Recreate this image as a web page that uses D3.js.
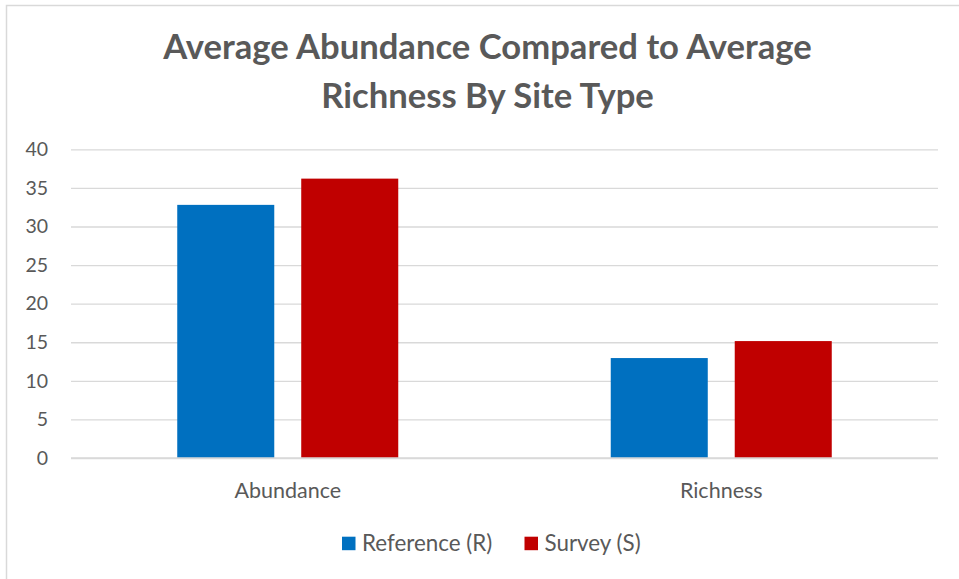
<!DOCTYPE html>
<html>
<head>
<meta charset="utf-8">
<script src="https://cdn.jsdelivr.net/npm/d3@7"></script>
<style>
  html, body { margin: 0; padding: 0; background: #fff; }
  svg { display: block; }
  text { font-family: Lato, "Open Sans", sans-serif; fill: #595959; }
</style>
</head>
<body>
<svg id="chart" width="959" height="579"></svg>
<script>
// Chart data
const categories = ["Abundance", "Richness"];
const seriesNames = ["Reference (R)", "Survey (S)"];
const referenceValues = [32.8, 12.95];
const surveyValues = [36.2, 15.15];
const yTicks = [0, 5, 10, 15, 20, 25, 30, 35, 40];
const titleLines = ["Average Abundance Compared to Average", "Richness By Site Type"];
const colors = ["#0070C0", "#C00000"];

const seriesValues = [referenceValues, surveyValues];
const table = categories.map((c, i) => ({
  category: c,
  values: seriesNames.map((s, j) => ({ series: s, value: seriesValues[j][i], idx: j }))
}));

const svg = d3.select("#chart");
const W = 959, H = 579;

// Outer chart border
svg.append("rect")
  .attr("x", 6.5).attr("y", 5.5)
  .attr("width", W + 10).attr("height", H + 10)
  .attr("fill", "#fff")
  .attr("stroke", "#D9D9D9").attr("stroke-width", 1.5);

// Plot area
const plot = { left: 71, right: 938, top: 149.3, bottom: 458 };

const x0 = d3.scaleBand().domain(categories).range([plot.left, plot.right]).padding(0);
const step = x0.bandwidth();
const barW = step * 0.2238;
const gap = barW * 0.278;
const groupW = barW * 2 + gap;
const x1 = d3.scaleBand().domain(seriesNames)
  .range([(step - groupW) / 2, (step + groupW) / 2])
  .paddingInner(gap / (barW + gap)).paddingOuter(0);

const y = d3.scaleLinear().domain([0, 40]).range([plot.bottom, plot.top]);

// Gridlines and value labels
const yAxis = d3.axisLeft(y).tickValues(yTicks).tickSize(-(plot.right - plot.left)).tickPadding(23);
const gy = svg.append("g").attr("transform", `translate(${plot.left},0)`).call(yAxis);
gy.select(".domain").remove();
gy.selectAll(".tick line").attr("stroke", "#D9D9D9").attr("stroke-width", 1.3);
gy.selectAll(".tick text")
  .attr("font-size", 19.5).attr("fill", "#595959")
  .style("font-family", "Lato, sans-serif");

// Bars
const groups = svg.append("g").selectAll("g").data(table).join("g")
  .attr("transform", d => `translate(${x0(d.category)},0)`);
groups.selectAll("rect").data(d => d.values).join("rect")
  .attr("x", d => x1(d.series))
  .attr("width", x1.bandwidth())
  .attr("y", d => y(d.value))
  .attr("height", d => y(0) - y(d.value))
  .attr("fill", d => colors[d.idx]);

// Baseline
svg.append("line")
  .attr("x1", plot.left).attr("x2", plot.right)
  .attr("y1", y(0)).attr("y2", y(0))
  .attr("stroke", "#D9D9D9").attr("stroke-width", 1.3);

// Category axis labels
const xAxis = d3.axisBottom(x0).tickSize(0).tickPadding(24.5);
const gx = svg.append("g").attr("transform", `translate(0,${plot.bottom})`).call(xAxis);
gx.select(".domain").remove();
gx.selectAll(".tick text")
  .attr("font-size", 21.5).attr("fill", "#595959")
  .style("font-family", "Lato, sans-serif");

// Title
const title = svg.append("g");
const baselines = [59.3, 108.3];
titleLines.forEach((t, i) => {
  title.append("text")
    .attr("x", 487.5).attr("y", baselines[i])
    .attr("text-anchor", "middle")
    .attr("font-weight", "bold")
    .attr("font-size", 30)
    .text(t);
});
// Fit the title width to the header area
const firstLine = title.select("text").node();
const targetWidth = 649;
const fs = 30 * targetWidth / firstLine.getComputedTextLength();
title.selectAll("text").attr("font-size", fs);

// Legend
const legendItems = [
  { name: seriesNames[0], color: colors[0], x: 342 },
  { name: seriesNames[1], color: colors[1], x: 524.5 }
];
const legend = svg.append("g");
legendItems.forEach(item => {
  legend.append("rect")
    .attr("x", item.x).attr("y", 536.7)
    .attr("width", 13.5).attr("height", 13.5)
    .attr("fill", item.color);
  legend.append("text")
    .attr("x", item.x + 20).attr("y", 551)
    .attr("font-size", 22.4)
    .text(item.name);
});
</script>
</body>
</html>
